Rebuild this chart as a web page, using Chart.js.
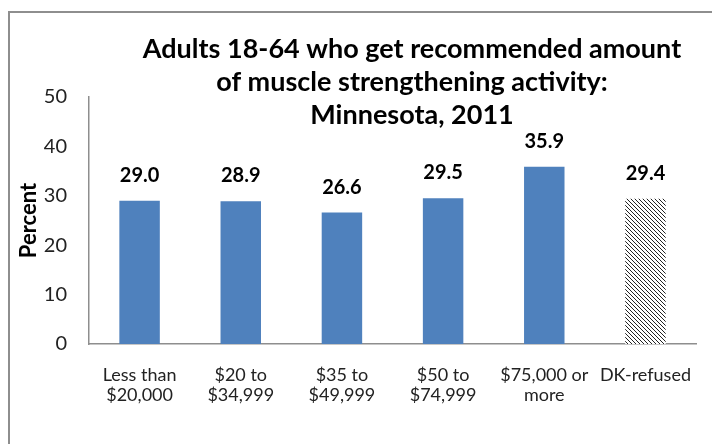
<!DOCTYPE html>
<html>
<head>
<meta charset="utf-8">
<script src="https://cdn.jsdelivr.net/npm/chart.js@4/dist/chart.umd.min.js"></script>
<style>
  html, body { margin: 0; padding: 0; background: #fff; overflow: hidden; }
  #wrap { position: relative; width: 712px; height: 444px; }
  #frame { position: absolute; left: 8px; top: 11px; width: 720px; height: 460px; border: 2px solid #8e8e8e; box-sizing: border-box; }
  canvas { position: absolute; left: 0; top: 0; }
</style>
</head>
<body>
<div id="wrap">
  <div id="frame"></div>
  <canvas id="chart" width="712" height="444"></canvas>
</div>
<script>
  // Income groups and percent values
  const categories = [
    ['Less than', '$20,000'],
    ['$20 to', '$34,999'],
    ['$35 to', '$49,999'],
    ['$50 to', '$74,999'],
    ['$75,000 or', 'more'],
    'DK-refused'
  ];
  const values = [29.0, 28.9, 26.6, 29.5, 35.9, 29.4];
  const titleLines = [
    'Adults 18-64 who get recommended amount',
    'of muscle strengthening activity:',
    'Minnesota, 2011'
  ];
  const yTicks = [0, 10, 20, 30, 40, 50];

  const FONT = 'Lato, "Open Sans", sans-serif';

  // Hatched fill for the last bar
  function makeHatch() {
    const p = document.createElement('canvas');
    p.width = 4; p.height = 4;
    const c = p.getContext('2d');
    c.fillStyle = '#fff';
    c.fillRect(0, 0, 4, 4);
    c.strokeStyle = '#222';
    c.lineWidth = 1;
    c.beginPath();
    c.moveTo(-1, -1); c.lineTo(5, 5);
    c.moveTo(-1, 3); c.lineTo(1, 5);
    c.moveTo(3, -1); c.lineTo(5, 1);
    c.stroke();
    return document.getElementById('chart').getContext('2d').createPattern(p, 'repeat');
  }

  const hatch = makeHatch();
  const barColors = values.map((v, i) => i === values.length - 1 ? hatch : '#4f81bd');

  // Title and value labels drawn on top of the chart
  const overlay = {
    id: 'overlay',
    afterDatasetsDraw(chart) {
      const ctx = chart.ctx;
      ctx.save();
      ctx.fillStyle = '#000';
      ctx.textAlign = 'center';
      ctx.textBaseline = 'alphabetic';

      ctx.font = 'bold 20px ' + FONT;
      const meta = chart.getDatasetMeta(0);
      meta.data.forEach((bar, i) => {
        ctx.fillText(values[i].toFixed(1), bar.x, bar.y - 19);
      });

      ctx.font = 'bold 27px ' + FONT;
      const tx = 412;
      [58, 91, 124].forEach((y, i) => ctx.fillText(titleLines[i], tx, y));
      ctx.restore();
    }
  };

  new Chart(document.getElementById('chart'), {
    type: 'bar',
    data: {
      labels: categories,
      datasets: [{
        data: values,
        backgroundColor: barColors,
        borderWidth: 0,
        barPercentage: 0.4,
        categoryPercentage: 1.0
      }]
    },
    options: {
      responsive: false,
      animation: false,
      layout: { padding: { top: 97, right: 0, left: 0, bottom: 0 } },
      plugins: {
        legend: { display: false },
        tooltip: { enabled: false },
        title: { display: false }
      },
      scales: {
        x: {
          grid: { display: false, drawTicks: false },
          border: { color: '#8e8e8e', width: 1.5 },
          ticks: {
            color: '#222',
            font: { family: FONT, size: 18, lineHeight: 1.12 },
            padding: 21,
            maxRotation: 0,
            autoSkip: false
          },
          afterFit(scale) { scale.height = 100; }
        },
        y: {
          min: 0,
          max: 50,
          grid: { display: false, drawTicks: false },
          border: { color: '#8e8e8e', width: 1.5 },
          afterBuildTicks(scale) { scale.ticks = yTicks.map(v => ({ value: v })); },
          ticks: {
            color: '#222',
            font: { family: FONT, size: 20 },
            padding: 22
          },
          title: {
            display: true,
            text: 'Percent',
            color: '#000',
            font: { family: FONT, size: 22, weight: 'bold' },
            padding: { top: 16, bottom: 0 }
          },
          afterFit(scale) { scale.width = 89; }
        }
      }
    },
    plugins: [overlay]
  });
</script>
</body>
</html>
